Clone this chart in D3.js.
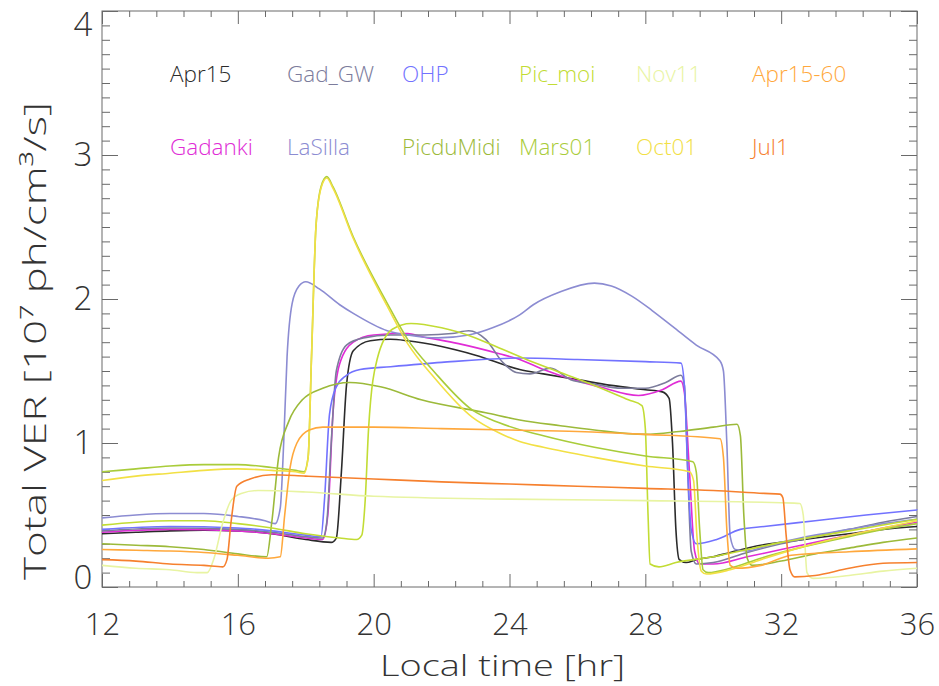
<!DOCTYPE html>
<html><head><meta charset="utf-8">
<script src="https://cdn.jsdelivr.net/npm/d3@7/dist/d3.min.js"></script>
<style>body{margin:0;background:#fff}</style>
</head><body>
<svg id="chart" width="939" height="686"></svg>
<script>
// ---- data: [local time (hr), total VER (1e7 ph/cm3/s)] ----
const apr15 = [[12,0.37],[13,0.38],[14,0.39],[15,0.395],[16,0.39],[17,0.37],[18,0.33],[18.75,0.31],[18.9,0.34],[19.05,0.8],[19.2,1.4],[19.4,1.64],[19.9,1.71],[20.5,1.72],[21,1.71],[22,1.67],[23,1.61],[24.3,1.51],[25,1.48],[26,1.44],[27,1.40],[28,1.37],[28.5,1.355],[28.7,1.31],[28.8,1.0],[28.9,0.4],[29.0,0.19],[29.2,0.17],[29.5,0.19],[30,0.21],[30.5,0.24],[31.4,0.29],[32,0.31],[33,0.34],[34,0.37],[35,0.40],[36,0.42]];
const gadanki = [[12,0.38],[14,0.40],[16,0.39],[17,0.37],[18,0.34],[18.5,0.33],[18.65,0.5],[18.8,1.2],[19.0,1.55],[19.4,1.70],[20,1.75],[21,1.76],[21.4,1.74],[22.5,1.69],[23.7,1.62],[24.3,1.58],[25,1.51],[26,1.43],[26.65,1.39],[27.8,1.33],[28.5,1.37],[29.05,1.43],[29.15,1.35],[29.3,0.8],[29.45,0.25],[29.6,0.16],[30,0.16],[31,0.21],[32,0.26],[33,0.31],[34,0.36],[35,0.41],[36,0.45]];
const gadGW = [[12,0.39],[14,0.41],[16,0.40],[17,0.38],[18,0.35],[18.5,0.34],[18.62,0.45],[18.75,1.0],[18.9,1.5],[19.2,1.68],[19.7,1.73],[20.5,1.75],[21.5,1.75],[22.3,1.76],[22.8,1.78],[23.3,1.72],[23.8,1.56],[24.2,1.49],[24.6,1.48],[25.2,1.52],[25.8,1.44],[26.5,1.41],[27.3,1.38],[28,1.38],[28.6,1.42],[29.05,1.47],[29.15,1.40],[29.25,0.8],[29.35,0.25],[29.5,0.16],[30,0.17],[31,0.24],[32,0.30],[33,0.35],[34,0.40],[35,0.45],[36,0.49]];
const laSilla = [[12,0.48],[13,0.50],[14,0.51],[15,0.51],[16,0.49],[16.8,0.46],[17.1,0.44],[17.25,0.55],[17.35,1.0],[17.45,1.6],[17.6,1.97],[17.8,2.09],[18.0,2.12],[18.4,2.07],[19.0,1.96],[19.4,1.90],[20.4,1.78],[21.0,1.75],[21.9,1.73],[22.8,1.75],[23.5,1.80],[24.3,1.89],[24.7,1.96],[25.5,2.05],[26.5,2.11],[27,2.09],[27.6,2.02],[28.2,1.92],[28.8,1.81],[29.5,1.68],[30.2,1.57],[30.3,1.50],[30.4,1.0],[30.5,0.35],[30.65,0.26],[31,0.25],[31.5,0.28],[32,0.31],[33,0.36],[34,0.40],[35,0.44],[36,0.47]];
const ohp = [[12,0.40],[14,0.42],[16,0.41],[17,0.39],[18,0.36],[18.45,0.35],[18.55,0.6],[18.7,1.2],[18.9,1.39],[19.2,1.47],[19.6,1.51],[20.5,1.53],[22,1.56],[24.3,1.59],[26,1.58],[28,1.565],[29.05,1.555],[29.15,1.4],[29.25,0.8],[29.35,0.4],[29.5,0.30],[30.1,0.33],[30.8,0.40],[31.5,0.42],[33,0.46],[34.5,0.50],[36,0.535]];
const picduMidi = [[12,0.30],[13,0.29],[14,0.28],[15,0.26],[16,0.23],[16.85,0.21],[17.0,0.45],[17.2,0.9],[17.5,1.15],[17.9,1.30],[18.5,1.38],[19.3,1.42],[20.2,1.39],[21.4,1.30],[23.3,1.21],[24.3,1.16],[25.5,1.12],[26.5,1.09],[28,1.06],[29,1.08],[30,1.11],[30.7,1.13],[30.8,1.05],[30.9,0.5],[31.0,0.2],[31.15,0.15],[32,0.18],[33,0.23],[34,0.27],[35,0.31],[36,0.34]];
const picMoi = [[12,0.43],[13,0.45],[14,0.46],[15,0.46],[16,0.44],[17,0.41],[18,0.37],[19,0.34],[19.5,0.33],[19.65,0.36],[19.75,0.6],[19.85,1.1],[20.1,1.58],[20.55,1.79],[21.1,1.83],[22,1.80],[23,1.73],[23.7,1.66],[24.5,1.58],[25.5,1.49],[26.5,1.40],[27.5,1.30],[27.9,1.26],[28.0,1.1],[28.08,0.5],[28.14,0.16],[28.4,0.14],[28.9,0.17],[30,0.21],[31,0.26],[32,0.31],[33,0.35],[34,0.39],[35,0.43],[36,0.47]];
const mars01 = [[12,0.80],[13,0.82],[14,0.84],[15,0.85],[16,0.85],[17,0.83],[17.7,0.81],[17.95,0.80],[18.07,0.9],[18.17,1.6],[18.3,2.5],[18.45,2.78],[18.62,2.85],[18.8,2.78],[19.4,2.43],[20.4,1.97],[21.0,1.72],[21.8,1.49],[22.9,1.23],[23.7,1.14],[25,1.05],[26.5,0.97],[28,0.91],[29.4,0.87],[29.5,0.8],[29.6,0.4],[29.7,0.12],[29.85,0.10],[30.5,0.13],[31.4,0.2],[32.5,0.27],[34,0.35],[35,0.40],[36,0.44]];
const nov11 = [[12,0.15],[13,0.13],[14,0.12],[14.8,0.10],[15.1,0.10],[15.3,0.2],[15.55,0.44],[15.8,0.6],[16.1,0.65],[16.6,0.67],[18,0.66],[20,0.63],[24,0.61],[28,0.60],[32,0.585],[32.55,0.58],[32.65,0.5],[32.76,0.1],[32.94,0.06],[34,0.08],[35,0.11],[36,0.13]];
const oct01 = [[12,0.74],[13,0.77],[14,0.79],[15,0.81],[16,0.82],[17,0.81],[17.7,0.80],[17.95,0.79],[18.07,0.9],[18.17,1.6],[18.3,2.5],[18.45,2.77],[18.62,2.84],[18.8,2.77],[19.4,2.42],[20.4,1.95],[21.0,1.69],[21.8,1.45],[22.9,1.18],[23.7,1.07],[24.3,1.01],[25,0.97],[26.5,0.90],[28,0.84],[29.3,0.80],[29.42,0.74],[29.52,0.35],[29.65,0.11],[29.8,0.09],[30.5,0.12],[31.4,0.19],[32.5,0.27],[34,0.36],[35,0.41],[36,0.46]];
const apr15_60 = [[12,0.26],[13,0.255],[14,0.25],[15,0.24],[16,0.22],[16.9,0.20],[17.25,0.21],[17.38,0.5],[17.54,0.83],[17.74,1.0],[18.1,1.09],[18.5,1.11],[20,1.11],[22,1.10],[24,1.09],[26,1.08],[28,1.06],[30.2,1.03],[30.3,0.9],[30.4,0.4],[30.5,0.15],[30.7,0.13],[31.4,0.15],[32.3,0.22],[34,0.245],[36,0.265]];
const jul1 = [[12,0.19],[13,0.18],[14,0.16],[15,0.15],[15.56,0.14],[15.68,0.19],[15.8,0.45],[15.97,0.70],[16.36,0.75],[17,0.78],[18,0.77],[20,0.75],[22,0.73],[24,0.715],[26,0.70],[28,0.685],[30,0.67],[31.5,0.65],[31.96,0.645],[32.05,0.62],[32.15,0.35],[32.26,0.12],[32.4,0.07],[33,0.08],[34,0.13],[35,0.165],[36,0.17]];

const seriesData   = [apr15, gadanki, gadGW, laSilla, ohp, picduMidi, picMoi, mars01, nov11, oct01, apr15_60, jul1];
const seriesColors = ["#2b2b2b","#e02cd6","#7c7c9c","#8c8cd2","#7272ff","#9cba3a","#c2dc34","#a9cc3a","#e8f4a2","#f2e044","#ffa83c","#f6802e"];

// legend (two rows, six columns)
const legendRow1 = ["Apr15","Gad_GW","OHP","Pic_moi","Nov11","Apr15-60"];
const legendRow1Colors = ["#2b2b2b","#7c7c9c","#7272ff","#c2dc34","#e8f4a2","#ffa83c"];
const legendRow2 = ["Gadanki","LaSilla","PicduMidi","Mars01","Oct01","Jul1"];
const legendRow2Colors = ["#e02cd6","#8c8cd2","#9cba3a","#a9cc3a","#f2e044","#f6802e"];

const xTickValues = [12,16,20,24,28,32,36];
const yTickValues = [0,1,2,3,4];
const xTitle = "Local time [hr]";
const yTitle = "Total VER [10\u2077 ph/cm\u00B3/s]";

// ---- layout ----
const L = 102, R = 917, T = 11, B = 587;
const svg = d3.select("#chart");
const x = d3.scaleLinear().domain([12,36]).range([L,R]);
const y = d3.scaleLinear().domain([0,4]).range([B,T]);
const FONT = "'Open Sans', 'DejaVu Sans', sans-serif";
const axisColor = "#6a6a6a";

// minor tick values
const xMinor = d3.range(0,31).map(i => 12 + i*0.8).filter(v => xTickValues.indexOf(Math.round(v*10)/10) < 0);
const yMinor = d3.range(0,41).map(i => i/10).filter(v => Math.abs(v - Math.round(v)) > 1e-6);

function styleAxis(g){
  g.select(".domain").remove();
  g.selectAll("line").attr("stroke", axisColor).attr("stroke-width", 1);
  g.selectAll("text").attr("font-family", FONT).attr("font-weight", 300).attr("fill", "#333");
}

// bottom
svg.append("g").attr("transform",`translate(0,${B})`)
  .call(d3.axisBottom(x).tickValues(xTickValues).tickSizeInner(-13).tickSizeOuter(0).tickPadding(26).tickFormat(d3.format("d")))
  .call(styleAxis).call(g => g.selectAll("text").attr("font-size", 31));
svg.append("g").attr("transform",`translate(0,${B})`)
  .call(d3.axisBottom(x).tickValues(xMinor).tickSizeInner(-6).tickSizeOuter(0).tickFormat(""))
  .call(styleAxis);
// top
svg.append("g").attr("transform",`translate(0,${T})`)
  .call(d3.axisTop(x).tickValues(xTickValues).tickSizeInner(-13).tickSizeOuter(0).tickFormat(""))
  .call(styleAxis);
svg.append("g").attr("transform",`translate(0,${T})`)
  .call(d3.axisTop(x).tickValues(xMinor).tickSizeInner(-6).tickSizeOuter(0).tickFormat(""))
  .call(styleAxis);
// left
svg.append("g").attr("transform",`translate(${L},0)`)
  .call(d3.axisLeft(y).tickValues(yTickValues).tickSizeInner(-16).tickSizeOuter(0).tickPadding(14).tickFormat(d3.format("d")))
  .call(styleAxis)
  .call(g => g.selectAll("text").attr("font-size", 33).attr("text-anchor","middle").attr("x",-19)
      .attr("dy", d => d === 4 ? "0.75em" : d === 0 ? "0.05em" : "0.32em"));
svg.append("g").attr("transform",`translate(${L},0)`)
  .call(d3.axisLeft(y).tickValues(yMinor).tickSizeInner(-8).tickSizeOuter(0).tickFormat(""))
  .call(styleAxis);
// right
svg.append("g").attr("transform",`translate(${R},0)`)
  .call(d3.axisRight(y).tickValues(yTickValues).tickSizeInner(-16).tickSizeOuter(0).tickFormat(""))
  .call(styleAxis);
svg.append("g").attr("transform",`translate(${R},0)`)
  .call(d3.axisRight(y).tickValues(yMinor).tickSizeInner(-8).tickSizeOuter(0).tickFormat(""))
  .call(styleAxis);

// frame
svg.append("rect").attr("x",L).attr("y",T).attr("width",R-L).attr("height",B-T)
  .attr("fill","none").attr("stroke",axisColor).attr("stroke-width",1);

// titles
svg.append("text").attr("x",(L+R)/2 - 7).attr("y",676).attr("text-anchor","middle")
  .attr("font-family",FONT).attr("font-weight",300).attr("font-size",30).attr("fill","#333")
  .attr("textLength",245).attr("lengthAdjust","spacingAndGlyphs").text(xTitle);
svg.append("text").attr("transform","translate(46,341) rotate(-90)").attr("text-anchor","middle")
  .attr("font-family",FONT).attr("font-weight",300).attr("font-size",31).attr("fill","#333")
  .attr("textLength",478).attr("lengthAdjust","spacingAndGlyphs").text(yTitle);

// curves
const line = d3.line().x(d => x(d[0])).y(d => y(d[1])).curve(d3.curveMonotoneX);
const plot = svg.append("g");
plot.selectAll("path.s").data(seriesData).join("path").attr("class","s")
  .attr("d", line).attr("fill","none")
  .attr("stroke", (d,i) => seriesColors[i]).attr("stroke-width",1.6).attr("stroke-linejoin","round");

// legend
const colX = [170,287,402,519,636,752];
function legendRow(labels, colors, yc){
  svg.append("g").selectAll("text").data(labels).join("text")
    .attr("x",(d,i) => colX[i]).attr("y",yc).attr("dy","0.36em")
    .attr("font-family",FONT).attr("font-weight",300).attr("font-size",22.5)
    .attr("fill",(d,i) => colors[i]).text(d => d);
}
legendRow(legendRow1, legendRow1Colors, 74);
legendRow(legendRow2, legendRow2Colors, 147);
</script>
</body></html>
